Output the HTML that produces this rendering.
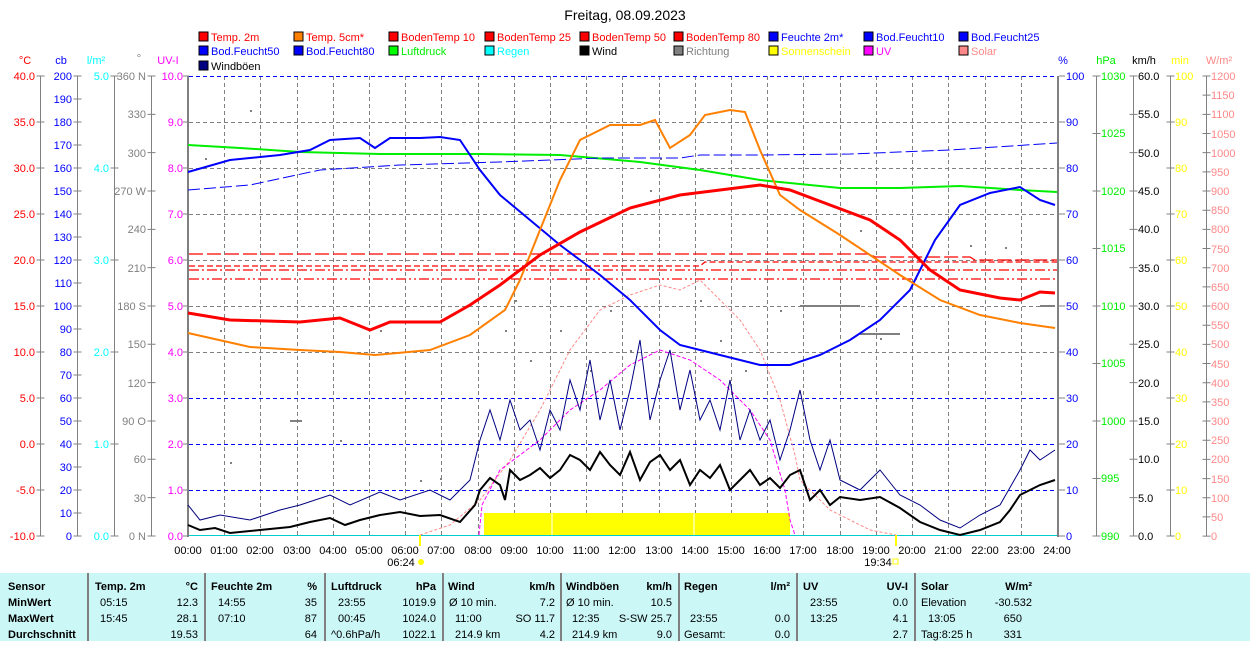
<!DOCTYPE html>
<html><head><meta charset="utf-8"><style>
body{margin:0;background:#fff;width:1250px;height:641px;overflow:hidden;font-family:"Liberation Sans",sans-serif}
svg text{font-family:"Liberation Sans",sans-serif;font-size:11px}
</style></head><body>
<svg width="1250" height="641" xmlns="http://www.w3.org/2000/svg">
<text x="625" y="20" text-anchor="middle" style="font-size:14px" fill="#000">Freitag, 08.09.2023</text>
<!-- legend -->
<g stroke="#000" stroke-width="1">
<rect x="199" y="32" width="9" height="9" fill="#f00"/><rect x="294" y="32" width="9" height="9" fill="#ff8000"/><rect x="389" y="32" width="9" height="9" fill="#f00"/><rect x="485" y="32" width="9" height="9" fill="#f00"/><rect x="580" y="32" width="9" height="9" fill="#f00"/><rect x="674" y="32" width="9" height="9" fill="#f00"/><rect x="769" y="32" width="9" height="9" fill="#00f"/><rect x="864" y="32" width="9" height="9" fill="#00f"/><rect x="959" y="32" width="9" height="9" fill="#00f"/>
<rect x="199" y="46" width="9" height="9" fill="#00f"/><rect x="294" y="46" width="9" height="9" fill="#00f"/><rect x="389" y="46" width="9" height="9" fill="#0f0"/><rect x="485" y="46" width="9" height="9" fill="#0ff"/><rect x="580" y="46" width="9" height="9" fill="#000"/><rect x="674" y="46" width="9" height="9" fill="#808080"/><rect x="769" y="46" width="9" height="9" fill="#ff0"/><rect x="864" y="46" width="9" height="9" fill="#f0f"/><rect x="959" y="46" width="9" height="9" fill="#f88"/>
<rect x="199" y="61" width="9" height="9" fill="#000080"/>
</g>
<g>
<text x="211" y="41" fill="#f00">Temp. 2m</text><text x="306" y="41" fill="#f00">Temp. 5cm*</text><text x="401" y="41" fill="#f00">BodenTemp 10</text><text x="497" y="41" fill="#f00">BodenTemp 25</text><text x="592" y="41" fill="#f00">BodenTemp 50</text><text x="686" y="41" fill="#f00">BodenTemp 80</text><text x="781" y="41" fill="#00f">Feuchte 2m*</text><text x="876" y="41" fill="#00f">Bod.Feucht10</text><text x="971" y="41" fill="#00f">Bod.Feucht25</text>
<text x="211" y="55" fill="#00f">Bod.Feucht50</text><text x="306" y="55" fill="#00f">Bod.Feucht80</text><text x="401" y="55" fill="#0e0">Luftdruck</text><text x="497" y="55" fill="#0ff">Regen</text><text x="592" y="55" fill="#000">Wind</text><text x="686" y="55" fill="#808080">Richtung</text><text x="781" y="55" fill="#ff0">Sonnenschein</text><text x="876" y="55" fill="#f0f">UV</text><text x="971" y="55" fill="#f88">Solar</text>
<text x="211" y="70" fill="#000">Windböen</text>
</g>
<!-- axis headers -->
<text x="25" y="64" fill="#f00" text-anchor="middle">°C</text><text x="61" y="64" fill="#00f" text-anchor="middle">cb</text><text x="96" y="64" fill="#0ff" text-anchor="middle">l/m²</text><text x="139" y="62" fill="#808080" text-anchor="middle">°</text><text x="168" y="64" fill="#f0f" text-anchor="middle">UV-I</text>
<text x="1063" y="64" fill="#00f" text-anchor="middle">%</text><text x="1106" y="64" fill="#0e0" text-anchor="middle">hPa</text><text x="1144" y="64" fill="#000" text-anchor="middle">km/h</text><text x="1180" y="64" fill="#ff0" text-anchor="middle">min</text><text x="1219" y="64" fill="#f88" text-anchor="middle">W/m²</text>
<!-- axes lines -->
<g stroke="#808080" stroke-width="1">
<line x1="40.5" y1="76" x2="40.5" y2="536"/><line x1="77.5" y1="76" x2="77.5" y2="536"/><line x1="114.5" y1="76" x2="114.5" y2="536"/><line x1="151.5" y1="76" x2="151.5" y2="536"/>
<line x1="1096.5" y1="76" x2="1096.5" y2="536"/><line x1="1133.5" y1="76" x2="1133.5" y2="536"/><line x1="1170.5" y1="76" x2="1170.5" y2="536"/><line x1="1206.5" y1="76" x2="1206.5" y2="536"/>
</g>
<!-- ticks -->
<g stroke="#808080" stroke-width="8" fill="none">
<line x1="40.5" y1="75.5" x2="40.5" y2="538" stroke-dasharray="1,45"/>
<line x1="77.5" y1="75.5" x2="77.5" y2="538" stroke-dasharray="1,22"/>
<line x1="114.5" y1="75.5" x2="114.5" y2="538" stroke-dasharray="1,91"/>
<line x1="151.5" y1="75.5" x2="151.5" y2="538" stroke-dasharray="1,37.33"/>
<line x1="186" y1="75.5" x2="186" y2="538" stroke-dasharray="1,45" stroke-width="6"/>
<line x1="1062" y1="75.5" x2="1062" y2="538" stroke-dasharray="1,45" stroke-width="6"/>
<line x1="1096.5" y1="75.5" x2="1096.5" y2="538" stroke-dasharray="1,56.5"/>
<line x1="1133.5" y1="75.5" x2="1133.5" y2="538" stroke-dasharray="1,37.33"/>
<line x1="1170.5" y1="75.5" x2="1170.5" y2="538" stroke-dasharray="1,45"/>
<line x1="1206.5" y1="75.5" x2="1206.5" y2="538" stroke-dasharray="1,18.17"/>
</g>
<rect x="187" y="76" width="2" height="461" fill="#808080"/><rect x="1057" y="76" width="2" height="461" fill="#808080"/>
<!-- grid -->
<g stroke="#808080" stroke-dasharray="4,3">
<line x1="189" y1="122.5" x2="1057" y2="122.5"/><line x1="189" y1="168.5" x2="1057" y2="168.5"/><line x1="189" y1="214.5" x2="1057" y2="214.5"/><line x1="189" y1="260.5" x2="1057" y2="260.5"/><line x1="189" y1="306.5" x2="1057" y2="306.5"/><line x1="189" y1="352.5" x2="1057" y2="352.5"/><line x1="189" y1="398.5" x2="1057" y2="398.5"/><line x1="189" y1="444.5" x2="1057" y2="444.5"/><line x1="189" y1="490.5" x2="1057" y2="490.5"/>
<line x1="224.5" y1="76" x2="224.5" y2="536"/><line x1="260.5" y1="76" x2="260.5" y2="536"/><line x1="297.5" y1="76" x2="297.5" y2="536"/><line x1="333.5" y1="76" x2="333.5" y2="536"/><line x1="369.5" y1="76" x2="369.5" y2="536"/><line x1="405.5" y1="76" x2="405.5" y2="536"/><line x1="441.5" y1="76" x2="441.5" y2="536"/><line x1="478.5" y1="76" x2="478.5" y2="536"/><line x1="514.5" y1="76" x2="514.5" y2="536"/><line x1="550.5" y1="76" x2="550.5" y2="536"/><line x1="586.5" y1="76" x2="586.5" y2="536"/><line x1="622.5" y1="76" x2="622.5" y2="536"/><line x1="659.5" y1="76" x2="659.5" y2="536"/><line x1="695.5" y1="76" x2="695.5" y2="536"/><line x1="731.5" y1="76" x2="731.5" y2="536"/><line x1="767.5" y1="76" x2="767.5" y2="536"/><line x1="803.5" y1="76" x2="803.5" y2="536"/><line x1="840.5" y1="76" x2="840.5" y2="536"/><line x1="876.5" y1="76" x2="876.5" y2="536"/><line x1="912.5" y1="76" x2="912.5" y2="536"/><line x1="948.5" y1="76" x2="948.5" y2="536"/><line x1="985.5" y1="76" x2="985.5" y2="536"/><line x1="1021.5" y1="76" x2="1021.5" y2="536"/>
</g>
<g stroke="#00f" stroke-dasharray="4,3">
<line x1="189" y1="76.5" x2="1057" y2="76.5"/><line x1="189" y1="398.5" x2="1057" y2="398.5"/><line x1="189" y1="444.5" x2="1057" y2="444.5"/><line x1="189" y1="490.5" x2="1057" y2="490.5"/>
</g>
<line x1="189" y1="535.5" x2="1057" y2="535.5" stroke="#0cc"/>
<!-- left ticks & labels -->
<g fill="#f00" text-anchor="end">
<text x="35" y="80">40.0</text><text x="35" y="126">35.0</text><text x="35" y="172">30.0</text><text x="35" y="218">25.0</text><text x="35" y="264">20.0</text><text x="35" y="310">15.0</text><text x="35" y="356">10.0</text><text x="35" y="402">5.0</text><text x="35" y="448">0.0</text><text x="35" y="494">-5.0</text><text x="35" y="540">-10.0</text>
</g>
<g fill="#00f" text-anchor="end">
<text x="72" y="80">200</text><text x="72" y="103">190</text><text x="72" y="126">180</text><text x="72" y="149">170</text><text x="72" y="172">160</text><text x="72" y="195">150</text><text x="72" y="218">140</text><text x="72" y="241">130</text><text x="72" y="264">120</text><text x="72" y="287">110</text><text x="72" y="310">100</text><text x="72" y="333">90</text><text x="72" y="356">80</text><text x="72" y="379">70</text><text x="72" y="402">60</text><text x="72" y="425">50</text><text x="72" y="448">40</text><text x="72" y="471">30</text><text x="72" y="494">20</text><text x="72" y="517">10</text><text x="72" y="540">0</text>
</g>
<g fill="#0ff" text-anchor="end">
<text x="109" y="80">5.0</text><text x="109" y="172">4.0</text><text x="109" y="264">3.0</text><text x="109" y="356">2.0</text><text x="109" y="448">1.0</text><text x="109" y="540">0.0</text>
</g>
<g fill="#808080" text-anchor="end">
<text x="146" y="80">360 N</text><text x="146" y="118">330</text><text x="146" y="157">300</text><text x="146" y="195">270 W</text><text x="146" y="233">240</text><text x="146" y="272">210</text><text x="146" y="310">180 S</text><text x="146" y="348">150</text><text x="146" y="387">120</text><text x="146" y="425">90  O</text><text x="146" y="463">60</text><text x="146" y="502">30</text><text x="146" y="540">0  N</text>
</g>
<g fill="#f0f" text-anchor="end">
<text x="183" y="80">10.0</text><text x="183" y="126">9.0</text><text x="183" y="172">8.0</text><text x="183" y="218">7.0</text><text x="183" y="264">6.0</text><text x="183" y="310">5.0</text><text x="183" y="356">4.0</text><text x="183" y="402">3.0</text><text x="183" y="448">2.0</text><text x="183" y="494">1.0</text><text x="183" y="540">0.0</text>
</g>
<!-- right labels -->
<g fill="#00f"><text x="1066" y="80">100</text><text x="1066" y="126">90</text><text x="1066" y="172">80</text><text x="1066" y="218">70</text><text x="1066" y="264">60</text><text x="1066" y="310">50</text><text x="1066" y="356">40</text><text x="1066" y="402">30</text><text x="1066" y="448">20</text><text x="1066" y="494">10</text><text x="1066" y="540">0</text></g>
<g fill="#0e0"><text x="1101" y="80">1030</text><text x="1101" y="137">1025</text><text x="1101" y="195">1020</text><text x="1101" y="252">1015</text><text x="1101" y="310">1010</text><text x="1101" y="367">1005</text><text x="1101" y="425">1000</text><text x="1101" y="482">995</text><text x="1101" y="540">990</text></g>
<g fill="#000"><text x="1138" y="80">60.0</text><text x="1138" y="118">55.0</text><text x="1138" y="157">50.0</text><text x="1138" y="195">45.0</text><text x="1138" y="233">40.0</text><text x="1138" y="272">35.0</text><text x="1138" y="310">30.0</text><text x="1138" y="348">25.0</text><text x="1138" y="387">20.0</text><text x="1138" y="425">15.0</text><text x="1138" y="463">10.0</text><text x="1138" y="502">5.0</text><text x="1138" y="540">0.0</text></g>
<g fill="#ff0"><text x="1175" y="80">100</text><text x="1175" y="126">90</text><text x="1175" y="172">80</text><text x="1175" y="218">70</text><text x="1175" y="264">60</text><text x="1175" y="310">50</text><text x="1175" y="356">40</text><text x="1175" y="402">30</text><text x="1175" y="448">20</text><text x="1175" y="494">10</text><text x="1175" y="540">0</text></g>
<g fill="#f88"><text x="1211" y="80">1200</text><text x="1211" y="99">1150</text><text x="1211" y="118">1100</text><text x="1211" y="138">1050</text><text x="1211" y="157">1000</text><text x="1211" y="176">950</text><text x="1211" y="195">900</text><text x="1211" y="214">850</text><text x="1211" y="233">800</text><text x="1211" y="253">750</text><text x="1211" y="272">700</text><text x="1211" y="291">650</text><text x="1211" y="310">600</text><text x="1211" y="329">550</text><text x="1211" y="348">500</text><text x="1211" y="368">450</text><text x="1211" y="387">400</text><text x="1211" y="406">350</text><text x="1211" y="425">300</text><text x="1211" y="444">250</text><text x="1211" y="463">200</text><text x="1211" y="483">150</text><text x="1211" y="502">100</text><text x="1211" y="521">50</text><text x="1211" y="540">0</text></g>
<!-- x labels -->
<g fill="#000" text-anchor="middle">
<text x="188" y="554">00:00</text><text x="224" y="554">01:00</text><text x="260" y="554">02:00</text><text x="297" y="554">03:00</text><text x="333" y="554">04:00</text><text x="369" y="554">05:00</text><text x="405" y="554">06:00</text><text x="441" y="554">07:00</text><text x="478" y="554">08:00</text><text x="514" y="554">09:00</text><text x="550" y="554">10:00</text><text x="586" y="554">11:00</text><text x="622" y="554">12:00</text><text x="659" y="554">13:00</text><text x="695" y="554">14:00</text><text x="731" y="554">15:00</text><text x="767" y="554">16:00</text><text x="803" y="554">17:00</text><text x="840" y="554">18:00</text><text x="876" y="554">19:00</text><text x="912" y="554">20:00</text><text x="948" y="554">21:00</text><text x="985" y="554">22:00</text><text x="1021" y="554">23:00</text><text x="1057" y="554">24:00</text>
<text x="401" y="566">06:24</text><text x="878" y="566">19:34</text>
</g>
<rect x="419" y="535" width="2" height="11" fill="#ff0"/><rect x="895" y="535" width="2" height="11" fill="#ff0"/>
<circle cx="421" cy="562" r="3" fill="#ff0"/><rect x="893" y="559" width="5" height="5" fill="none" stroke="#ff0"/>
<!-- sunshine -->
<rect x="484" y="513" width="306" height="22" fill="#ff0"/>
<line x1="552" y1="513" x2="552" y2="535" stroke="#fff"/><line x1="694" y1="513" x2="694" y2="535" stroke="#fff"/>
<!-- direction dots -->
<g fill="#808080">
<rect x="250" y="110" width="2" height="2"/><rect x="205" y="158" width="2" height="2"/><rect x="220" y="330" width="2" height="2"/><rect x="290" y="420" width="12" height="2"/><rect x="420" y="480" width="2" height="2"/><rect x="440" y="478" width="2" height="2"/><rect x="505" y="330" width="2" height="2"/><rect x="515" y="300" width="2" height="2"/><rect x="530" y="360" width="2" height="2"/><rect x="560" y="330" width="2" height="2"/><rect x="590" y="370" width="2" height="2"/><rect x="610" y="310" width="2" height="2"/><rect x="630" y="350" width="2" height="2"/><rect x="650" y="190" width="2" height="2"/><rect x="660" y="158" width="2" height="2"/><rect x="700" y="300" width="2" height="2"/><rect x="720" y="340" width="2" height="2"/><rect x="745" y="370" width="2" height="2"/><rect x="780" y="310" width="2" height="2"/><rect x="800" y="305" width="60" height="2"/><rect x="860" y="333" width="40" height="2"/><rect x="860" y="230" width="2" height="2"/><rect x="970" y="245" width="2" height="2"/><rect x="1005" y="247" width="2" height="2"/><rect x="1040" y="305" width="15" height="2"/><rect x="880" y="338" width="2" height="2"/><rect x="380" y="330" width="2" height="2"/><rect x="340" y="440" width="2" height="2"/><rect x="230" y="462" width="2" height="2"/>
</g>
<!-- boden temps -->
<g fill="none" stroke="#f00" stroke-width="1.3">
<polyline stroke-dasharray="14,4" points="189,254 870,254 875,257 970,257 975,260 1057,260"/>
<polyline stroke-dasharray="6,3" points="189,266 700,266 705,262 1057,262"/>
<polyline stroke-dasharray="10,3,2,3" points="189,270 1057,270"/>
<polyline stroke-dasharray="10,3,2,3,2,3" points="189,279 1057,279"/>
</g>
<!-- solar & uv -->
<polyline fill="none" stroke="#f88" stroke-dasharray="3,2" points="420,535 450,525 480,500 510,460 540,410 570,350 600,310 630,295 660,285 680,290 700,280 720,300 740,320 760,350 780,400 795,455 800,480 830,510 870,530 896,535"/>
<polyline fill="none" stroke="#f0f" stroke-dasharray="4,2" points="479,535 482,505 500,470 540,440 570,410 600,390 630,365 660,350 690,360 720,380 750,410 770,440 785,490 790,520 795,535"/>
<!-- pressure -->
<polyline fill="none" stroke="#0e0" stroke-width="2" points="188,145 240,148 300,152 380,154 480,154 560,155 640,162 700,170 760,180 840,188 900,188 960,186 1020,190 1057,192"/>
<!-- bod feucht dashed -->
<polyline fill="none" stroke="#00f" stroke-width="1" stroke-dasharray="12,4" points="188,190 250,185 320,170 400,165 500,162 600,158 680,158 700,155 760,155 850,154 950,150 1057,143"/>
<!-- humidity -->
<polyline fill="none" stroke="#00f" stroke-width="2" points="188,172 230,160 280,155 310,150 330,140 360,138 375,148 390,138 420,138 440,137 460,140 480,170 500,195 530,220 560,245 600,275 630,300 660,330 680,345 720,355 760,365 790,365 820,355 850,340 880,320 910,290 935,240 960,205 990,193 1020,187 1040,200 1055,205"/>
<!-- temps -->
<polyline fill="none" stroke="#ff8000" stroke-width="2" points="188,333 250,347 300,350 340,352 375,355 430,350 470,335 505,310 520,280 540,230 560,180 580,140 610,125 640,125 655,120 670,148 690,135 705,115 730,110 745,112 760,150 780,195 800,210 840,235 870,255 900,275 940,300 980,315 1020,323 1055,328"/>
<polyline fill="none" stroke="#f00" stroke-width="3" points="188,313 230,320 300,322 340,318 370,330 390,322 440,322 470,305 500,285 540,255 580,232 630,208 680,195 720,190 760,185 790,190 830,205 870,220 900,240 930,270 960,290 1000,298 1020,300 1040,292 1055,293"/>
<!-- gusts -->
<polyline fill="none" stroke="#000080" stroke-width="1" points="188,505 200,520 220,515 250,520 280,510 300,505 330,495 350,505 380,492 400,500 430,490 450,500 470,480 480,440 490,410 500,440 510,400 520,430 530,420 540,450 550,410 560,430 570,380 580,410 590,360 600,420 610,380 620,430 630,390 640,340 650,420 660,380 670,350 680,410 690,370 700,420 710,400 720,430 730,380 740,440 750,410 760,440 770,420 780,460 790,430 800,390 810,440 820,470 830,440 840,480 860,490 880,470 900,495 920,505 940,520 960,528 980,515 1000,505 1020,470 1030,450 1040,460 1055,450"/>
<!-- wind -->
<polyline fill="none" stroke="#000" stroke-width="2" points="188,525 200,530 215,528 230,533 260,530 290,527 310,522 330,518 345,525 360,520 380,515 400,512 420,516 440,515 460,522 475,505 480,490 490,478 500,485 505,500 510,470 520,480 530,475 540,468 550,478 560,470 570,455 580,460 590,470 600,452 610,465 620,475 630,452 640,480 650,462 660,455 670,470 680,460 690,485 700,470 710,478 720,465 730,490 740,480 750,470 760,485 770,478 780,488 790,475 800,470 810,500 820,490 830,505 840,497 860,500 880,497 900,508 920,522 940,530 960,535 980,530 1000,522 1010,510 1020,495 1030,490 1040,485 1055,480"/>
<!-- table -->
<rect x="0" y="573" width="1250" height="68" fill="#ccf7f7"/>
<g stroke="#808080" stroke-width="2">
<line x1="88" y1="573" x2="88" y2="641"/><line x1="205" y1="573" x2="205" y2="641"/><line x1="325" y1="573" x2="325" y2="641"/><line x1="443" y1="573" x2="443" y2="641"/><line x1="561" y1="573" x2="561" y2="641"/><line x1="679" y1="573" x2="679" y2="641"/><line x1="797" y1="573" x2="797" y2="641"/><line x1="915" y1="573" x2="915" y2="641"/>
</g>
<g fill="#000" font-weight="bold">
<text x="8" y="590" font-weight="bold">Sensor</text><text x="8" y="606" font-weight="bold">MinWert</text><text x="8" y="622" font-weight="bold">MaxWert</text><text x="8" y="638" font-weight="bold">Durchschnitt</text>
<text x="95" y="590" font-weight="bold">Temp. 2m</text><text x="198" y="590" text-anchor="end" font-weight="bold">°C</text>
<text x="211" y="590" font-weight="bold">Feuchte 2m</text><text x="317" y="590" text-anchor="end" font-weight="bold">%</text>
<text x="331" y="590" font-weight="bold">Luftdruck</text><text x="436" y="590" text-anchor="end" font-weight="bold">hPa</text>
<text x="448" y="590" font-weight="bold">Wind</text><text x="555" y="590" text-anchor="end" font-weight="bold">km/h</text>
<text x="566" y="590" font-weight="bold">Windböen</text><text x="672" y="590" text-anchor="end" font-weight="bold">km/h</text>
<text x="684" y="590" font-weight="bold">Regen</text><text x="790" y="590" text-anchor="end" font-weight="bold">l/m²</text>
<text x="803" y="590" font-weight="bold">UV</text><text x="908" y="590" text-anchor="end" font-weight="bold">UV-I</text>
<text x="921" y="590" font-weight="bold">Solar</text><text x="1032" y="590" text-anchor="end" font-weight="bold">W/m²</text>
</g>
<g fill="#000">
<text x="100" y="606">05:15</text><text x="198" y="606" text-anchor="end">12.3</text><text x="100" y="622">15:45</text><text x="198" y="622" text-anchor="end">28.1</text><text x="198" y="638" text-anchor="end">19.53</text>
<text x="218" y="606">14:55</text><text x="317" y="606" text-anchor="end">35</text><text x="218" y="622">07:10</text><text x="317" y="622" text-anchor="end">87</text><text x="317" y="638" text-anchor="end">64</text>
<text x="338" y="606">23:55</text><text x="436" y="606" text-anchor="end">1019.9</text><text x="338" y="622">00:45</text><text x="436" y="622" text-anchor="end">1024.0</text><text x="331" y="638">^0.6hPa/h</text><text x="436" y="638" text-anchor="end">1022.1</text>
<text x="449" y="606">Ø 10 min.</text><text x="555" y="606" text-anchor="end">7.2</text><text x="455" y="622">11:00</text><text x="555" y="622" text-anchor="end">SO 11.7</text><text x="455" y="638">214.9 km</text><text x="555" y="638" text-anchor="end">4.2</text>
<text x="566" y="606">Ø 10 min.</text><text x="672" y="606" text-anchor="end">10.5</text><text x="572" y="622">12:35</text><text x="672" y="622" text-anchor="end">S-SW 25.7</text><text x="572" y="638">214.9 km</text><text x="672" y="638" text-anchor="end">9.0</text>
<text x="690" y="622">23:55</text><text x="790" y="622" text-anchor="end">0.0</text><text x="684" y="638">Gesamt:</text><text x="790" y="638" text-anchor="end">0.0</text>
<text x="810" y="606">23:55</text><text x="908" y="606" text-anchor="end">0.0</text><text x="810" y="622">13:25</text><text x="908" y="622" text-anchor="end">4.1</text><text x="908" y="638" text-anchor="end">2.7</text>
<text x="921" y="606">Elevation</text><text x="1032" y="606" text-anchor="end">-30.532</text><text x="928" y="622">13:05</text><text x="1022" y="622" text-anchor="end">650</text><text x="921" y="638">Tag:8:25 h</text><text x="1022" y="638" text-anchor="end">331</text>
</g>
</svg>
</body></html>
